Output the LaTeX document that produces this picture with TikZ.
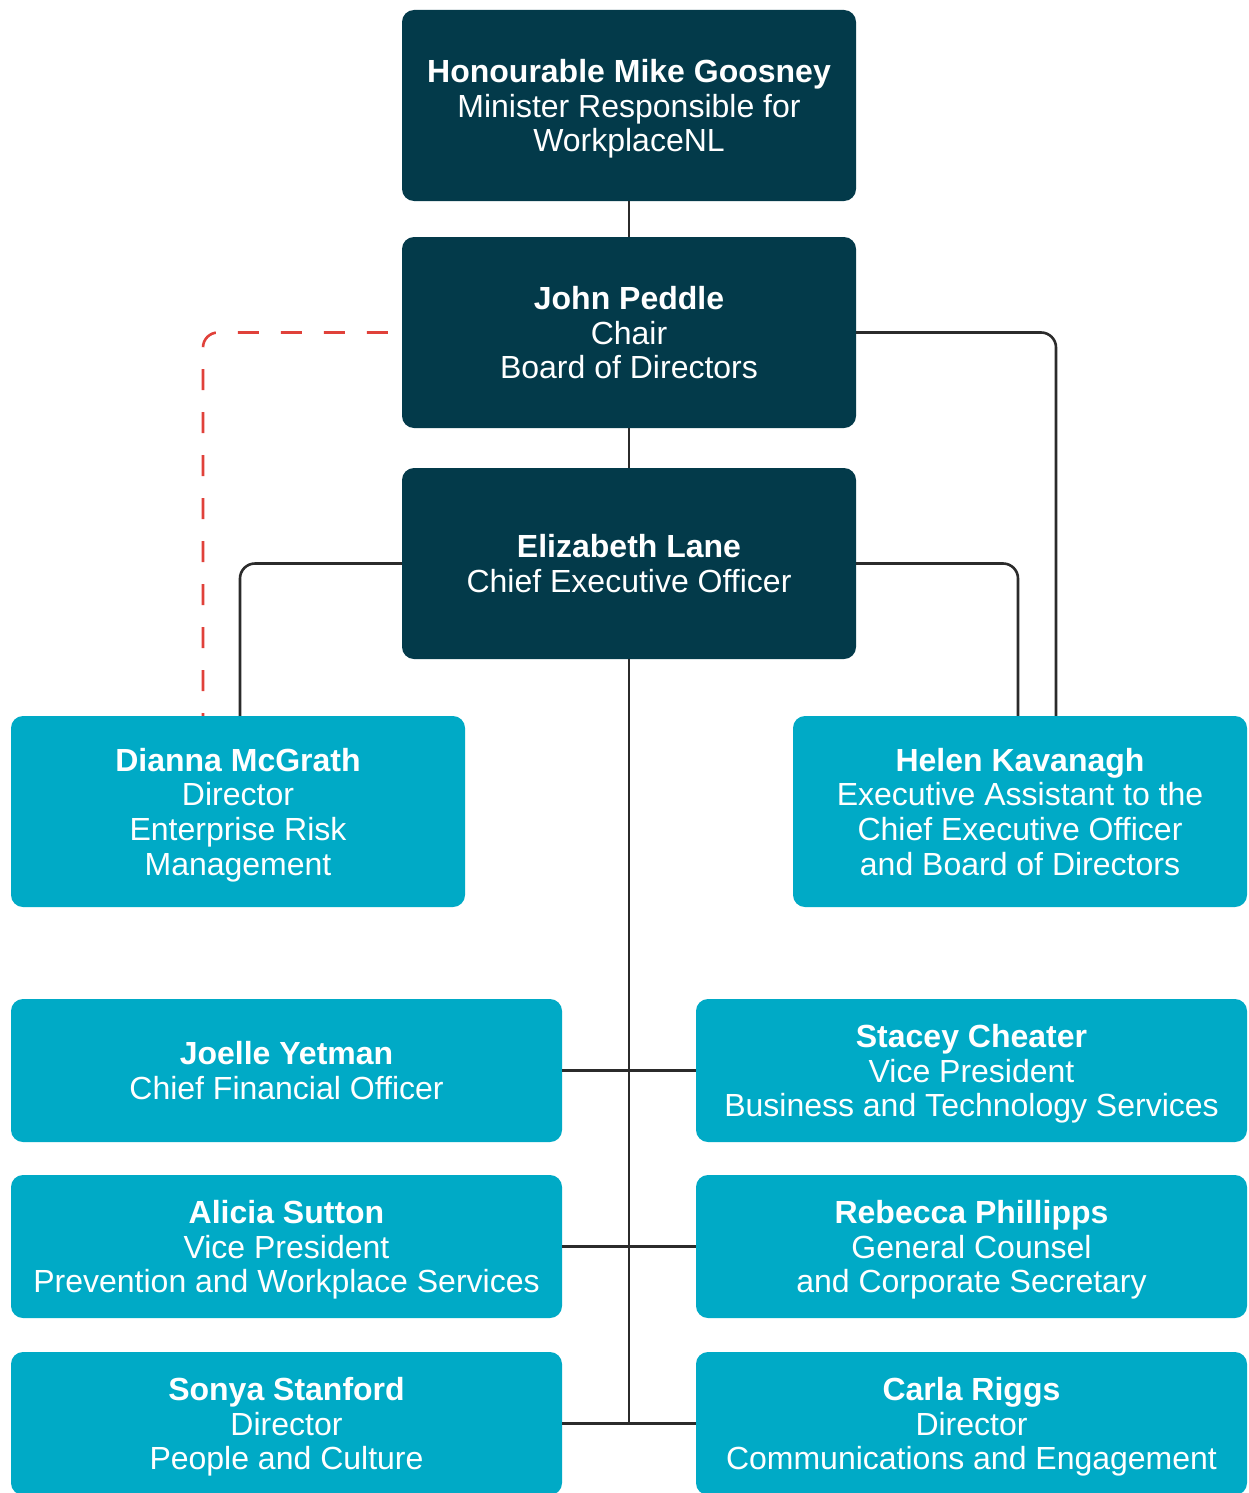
\documentclass[tikz,border=0pt]{standalone}
\usepackage{fontspec}
\setmainfont{Liberation Sans}
\definecolor{darkbox}{HTML}{033A4A}
\definecolor{lightbox}{HTML}{00AAC6}
\definecolor{linec}{HTML}{2B2B2B}
\definecolor{redline}{HTML}{E0413A}
\begin{document}
\begin{tikzpicture}[x=1pt,y=-1pt,
  box/.style={rounded corners=12pt, text=white, align=center, inner sep=0pt, text depth=0pt,
    font=\fontsize{32}{34.7}\selectfont},
  dbox/.style={box, fill=darkbox, minimum width=454pt, minimum height=191pt},
  mbox/.style={box, fill=lightbox, minimum width=454pt, minimum height=191pt},
  wbox/.style={box, fill=lightbox, minimum width=551pt, minimum height=143pt},
  conn/.style={draw=linec, line width=2.6pt},
  dashconn/.style={draw=redline, line width=2.6pt, dash pattern=on 21pt off 22pt, dash phase=29pt}]
\useasboundingbox (0,0) rectangle (1248,1493);
\fill[white] (0,0) rectangle (1248,1493);

\node[dbox] (min) at (629,105.5) {\textbf{Honourable Mike Goosney}\\Minister Responsible for\\WorkplaceNL};
\node[dbox] (chair) at (629,332.5) {\textbf{John Peddle}\\Chair\\Board of Directors};
\node[dbox] (ceo) at (629,563.5) {\textbf{Elizabeth Lane}\\Chief Executive Officer};
\node[mbox] (dianna) at (238,811.5) {\textbf{Dianna McGrath}\\Director\\Enterprise Risk\\Management};
\node[mbox] (helen) at (1020,811.5) {\textbf{Helen Kavanagh}\\Executive Assistant to the\\Chief Executive Officer\\and Board of Directors};
\node[wbox] (joelle) at (286.5,1070.5) {\textbf{Joelle Yetman}\\Chief Financial Officer};
\node[wbox] (stacey) at (971.5,1070.5) {\textbf{Stacey Cheater}\\Vice President\\Business and Technology Services};
\node[wbox] (alicia) at (286.5,1246.5) {\textbf{Alicia Sutton}\\Vice President\\Prevention and Workplace Services};
\node[wbox] (rebecca) at (971.5,1246.5) {\textbf{Rebecca Phillipps}\\General Counsel\\and Corporate Secretary};
\node[wbox] (sonya) at (286.5,1423.5) {\textbf{Sonya Stanford}\\Director\\People and Culture};
\node[wbox] (carla) at (971.5,1423.5) {\textbf{Carla Riggs}\\Director\\Communications and Engagement};

\coordinate (spineend) at (629,1423.5);
\draw[conn] (min.south) -- (chair.north);
\draw[conn] (chair.south) -- (ceo.north);
\draw[conn] (ceo.south) -- (spineend);
\draw[conn] (joelle.east) -- (stacey.west);
\draw[conn] (alicia.east) -- (rebecca.west);
\draw[conn] (sonya.east) -- (carla.west);
\draw[conn, rounded corners=15pt] (ceo.west) -| ([xshift=2pt]dianna.north);
\draw[conn, rounded corners=15pt] (ceo.east) -| ([xshift=-2pt]helen.north);
\draw[conn, rounded corners=15pt] (chair.east) -| ([xshift=36pt]helen.north);
\draw[dashconn, rounded corners=15pt] (chair.west) -| ([xshift=-35pt]dianna.north);
\end{tikzpicture}
\end{document}
